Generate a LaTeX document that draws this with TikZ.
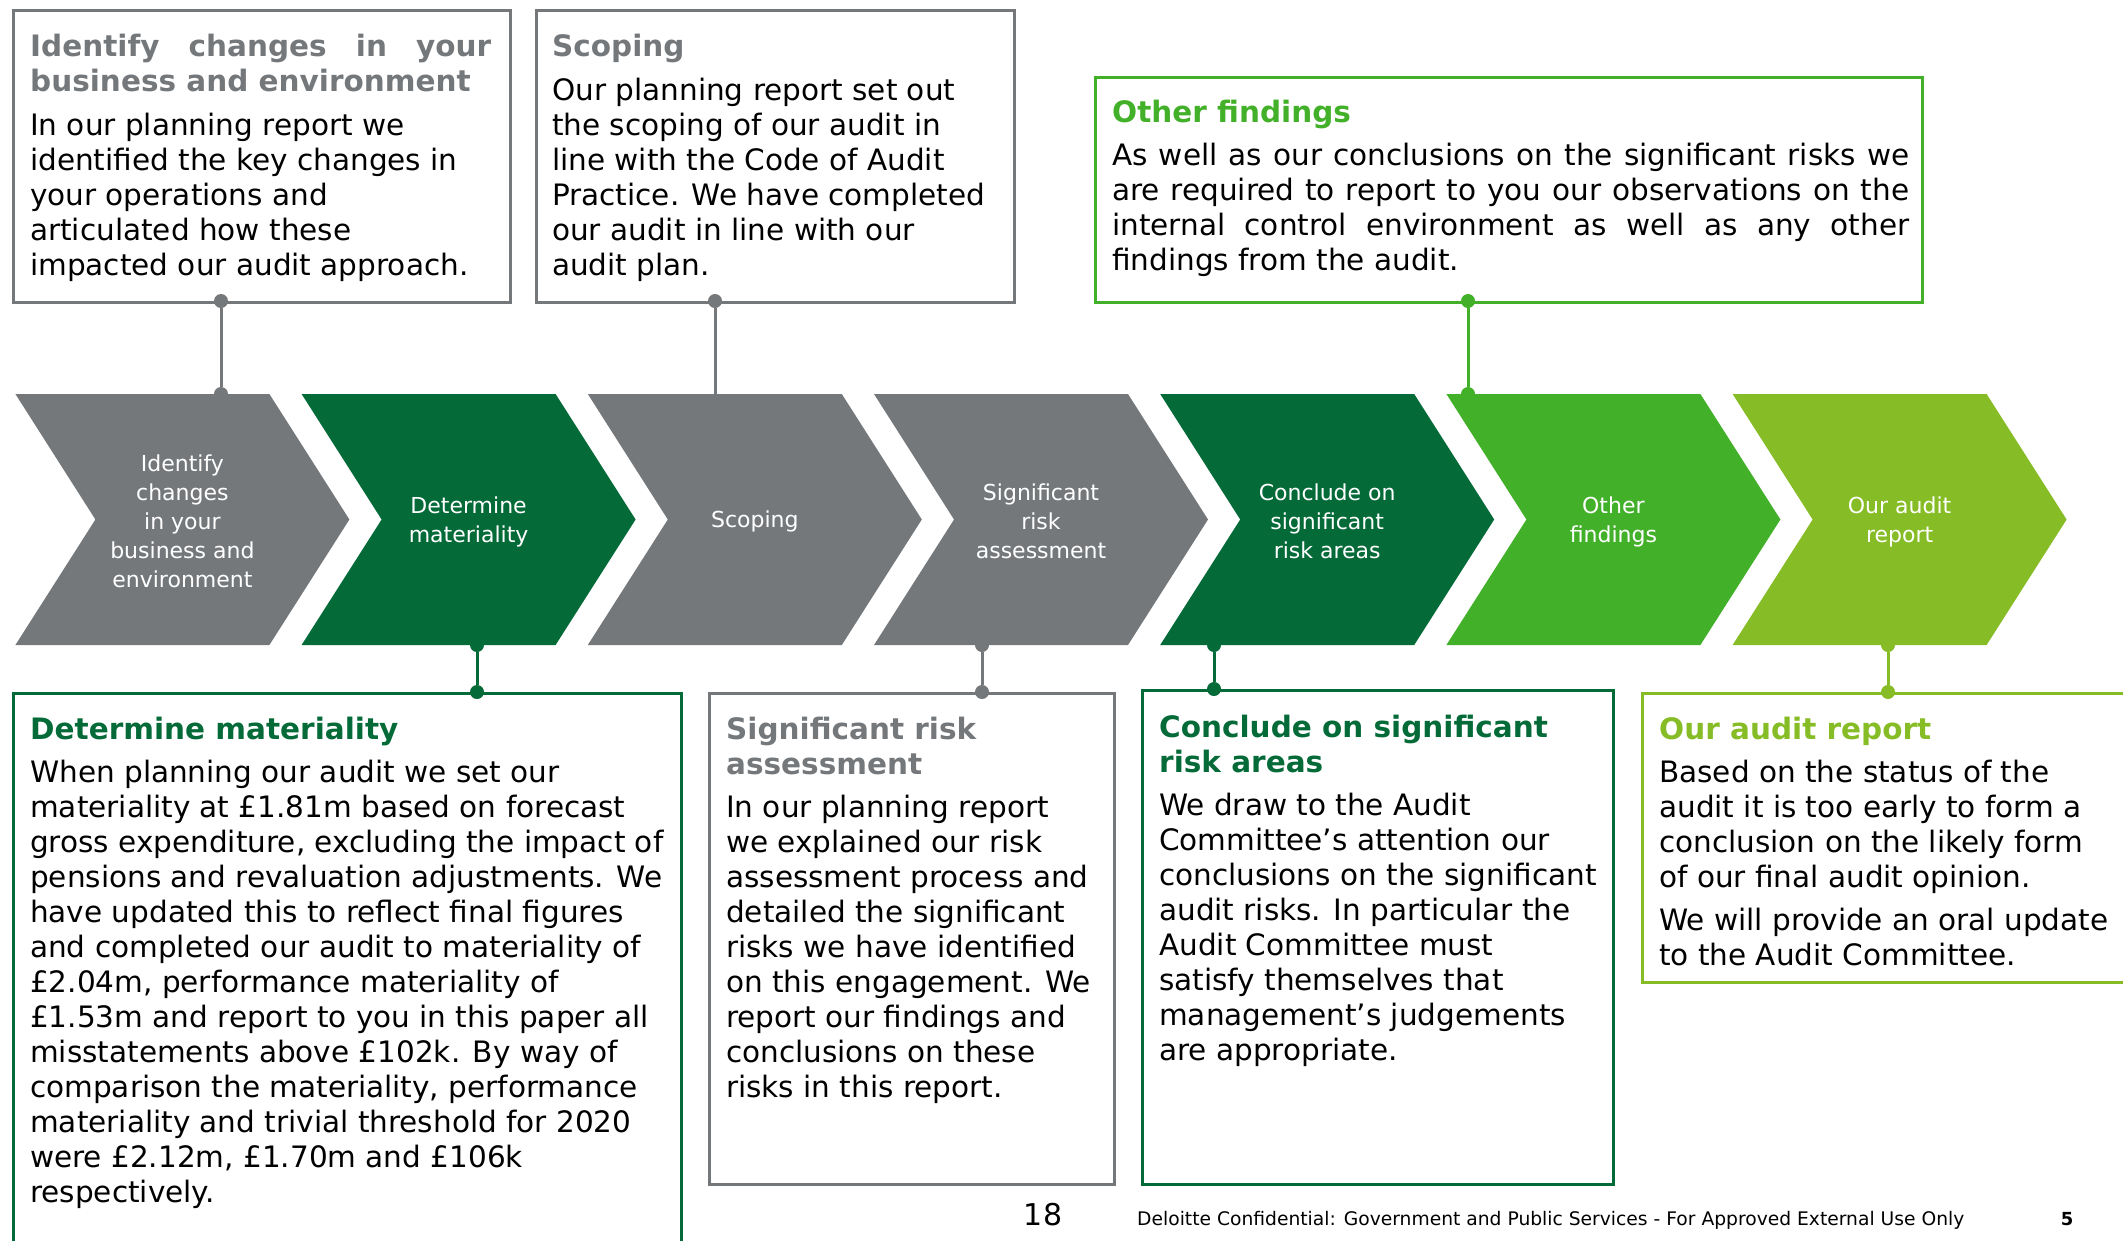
\documentclass[tikz,border=0pt]{standalone}
\usepackage{fontspec}
\setmainfont{DejaVu Sans}

\definecolor{dgray}{HTML}{75787B}
\definecolor{dgreen}{HTML}{046A38}
\definecolor{mgreen}{HTML}{43B02A}
\definecolor{lgreen}{HTML}{86BC25}

\newcommand\bodysize{\fontsize{29.5}{35}\selectfont}
\newcommand\chevsize{\fontsize{22}{29}\selectfont}
% panel text: width, title colour, title lines, body
\newcommand\paneltext[4]{\parbox[t]{#1}{\bodysize\raggedright
  {\leavevmode\bfseries\color{#2}#3\par}\vspace{8.5pt}#4}}

\tikzset{
  chevlabel/.style={text=white, font=\chevsize, align=center, inner sep=0pt},
  panel/.style={draw=#1, line width=2.5pt, rectangle, inner sep=0pt, anchor=north west},
  ptext/.style={anchor=base west, inner sep=0pt, text=black},
  pin/.style={circle, fill=#1, inner sep=0pt, minimum size=14pt},
  link/.style={draw=#1, line width=3pt},
}

\begin{document}
\begin{tikzpicture}[x=1pt, y=-1pt]
\useasboundingbox (0,0) rectangle (2123,1240);
\clip (0,0) rectangle (2123,1240);

% process chevrons
\foreach \i/\col in {1/dgray,2/dgreen,3/dgray,4/dgray,5/dgreen,6/mgreen,7/lgreen}{
  \pgfmathsetmacro\L{15.4+286.2*(\i-1)}
  \fill[\col] (\L,394) -- ++(254,0) -- ++(80,125.5) -- ++(-80,125.5)
    -- ++(-254,0) -- ++(80,-125.5) -- cycle;
}
\node[chevlabel] (c1) at (182.4,521.5) {Identify\\changes\\in your\\business and\\environment};
\node[chevlabel] (c2) at (468.6,521.5) {Determine\\materiality};
\node[chevlabel] (c3) at (754.8,521.5) {Scoping};
\node[chevlabel] (c4) at (1041.0,521.5) {Significant\\risk\\assessment};
\node[chevlabel] (c5) at (1327.2,521.5) {Conclude on\\significant\\risk areas};
\node[chevlabel] (c6) at (1613.4,521.5) {Other\\findings};
\node[chevlabel] (c7) at (1899.6,521.5) {Our audit\\report};

% upper panels
\node[panel=dgray, minimum width=497pt, minimum height=292pt] (b1) at (12,9) {};
\node[panel=dgray, minimum width=478pt, minimum height=292pt] (b2) at (535,9) {};
\node[panel=mgreen, minimum width=827pt, minimum height=225pt] (b3) at (1094,76) {};

\node[ptext] (t1) at (30,56.5) {\paneltext{600pt}{dgray}
  {\makebox[461pt][s]{Identify changes in your}\\business and environment}
  {In our planning report we\\identified the key changes in\\your operations and\\articulated how these\\impacted our audit approach.}};
\node[ptext] (t2) at (552,56.5) {\paneltext{600pt}{dgray}
  {Scoping}
  {Our planning report set out\\the scoping of our audit in\\line with the Code of Audit\\Practice. We have completed\\our audit in line with our\\audit plan.}};
\node[ptext] (t3) at (1112,122) {\paneltext{900pt}{mgreen}
  {Other findings}
  {\makebox[797pt][s]{As well as our conclusions on the significant risks we}\\
   \makebox[797pt][s]{are required to report to you our observations on the}\\
   \makebox[797pt][s]{internal control environment as well as any other}\\
   findings from the audit.}};

% lower panels
\node[panel=dgreen, minimum width=668pt, minimum height=580pt] (bm) at (12,692) {};
\node[panel=dgray, minimum width=405pt, minimum height=491pt] (bs) at (708,692) {};
\node[panel=dgreen, minimum width=471pt, minimum height=494pt] (bc) at (1141,689) {};
\node[panel=lgreen, minimum width=520pt, minimum height=289pt] (ba) at (1641,692) {};

\node[ptext] (tm) at (30,739) {\paneltext{700pt}{dgreen}
  {Determine materiality}
  {When planning our audit we set our\\materiality at £1.81m based on forecast\\gross expenditure, excluding the impact of\\pensions and revaluation adjustments. We\\have updated this to reflect final figures\\and completed our audit to materiality of\\£2.04m, performance materiality of\\£1.53m and report to you in this paper all\\misstatements above £102k. By way of\\comparison the materiality, performance\\materiality and trivial threshold for 2020\\were £2.12m, £1.70m and £106k\\respectively.}};
\node[ptext] (ts) at (726,739) {\paneltext{600pt}{dgray}
  {Significant risk\\assessment}
  {In our planning report\\we explained our risk\\assessment process and\\detailed the significant\\risks we have identified\\on this engagement. We\\report our findings and\\conclusions on these\\risks in this report.}};
\node[ptext] (tc) at (1159,737) {\paneltext{600pt}{dgreen}
  {Conclude on significant\\risk areas}
  {We draw to the Audit\\Committee’s attention our\\conclusions on the significant\\audit risks. In particular the\\Audit Committee must\\satisfy themselves that\\management’s judgements\\are appropriate.}};
\node[ptext] (ta) at (1659,739) {\paneltext{600pt}{lgreen}
  {Our audit report}
  {Based on the status of the\\audit it is too early to form a\\conclusion on the likely form\\of our final audit opinion.\par\vspace{8pt}We will provide an oral update\\to the Audit Committee.}};

% connectors from upper panels to chevrons
\node[pin=dgray] (p1a) at (221,301) {};
\node[pin=dgray] (p1b) at (221,394) {};
\draw[link=dgray] (p1a) -- (p1b);
\node[pin=dgray] (p3a) at (715,301) {};
\coordinate (p3b) at (715,394);
\draw[link=dgray] (p3a) -- (p3b);
\node[pin=mgreen] (p6a) at (1468,301) {};
\node[pin=mgreen] (p6b) at (1468,394) {};
\draw[link=mgreen] (p6a) -- (p6b);

% connectors from chevrons to lower panels
\node[pin=dgreen] (p2a) at (477,645) {};
\node[pin=dgreen] (p2b) at (477,692) {};
\draw[link=dgreen] (p2a) -- (p2b);
\node[pin=dgray] (p4a) at (982,645) {};
\node[pin=dgray] (p4b) at (982,692) {};
\draw[link=dgray] (p4a) -- (p4b);
\node[pin=dgreen] (p5a) at (1214,645) {};
\node[pin=dgreen] (p5b) at (1214,689) {};
\draw[link=dgreen] (p5a) -- (p5b);
\node[pin=lgreen] (p7a) at (1888,645) {};
\node[pin=lgreen] (p7b) at (1888,692) {};
\draw[link=lgreen] (p7a) -- (p7b);

% page footer
\node[anchor=base, inner sep=0pt, font=\fontsize{30}{36}\selectfont] (pgno) at (1043,1225) {18};
\node[anchor=base west, inner sep=0pt, font=\fontsize{18.7}{22}\selectfont] (foot) at (1137,1225)
  {Deloitte Confidential: Government and Public Services - For Approved External Use Only};
\node[anchor=base, inner sep=0pt, font=\bfseries\fontsize{18}{22}\selectfont] (slide) at (2067,1225) {5};
\end{tikzpicture}
\end{document}
